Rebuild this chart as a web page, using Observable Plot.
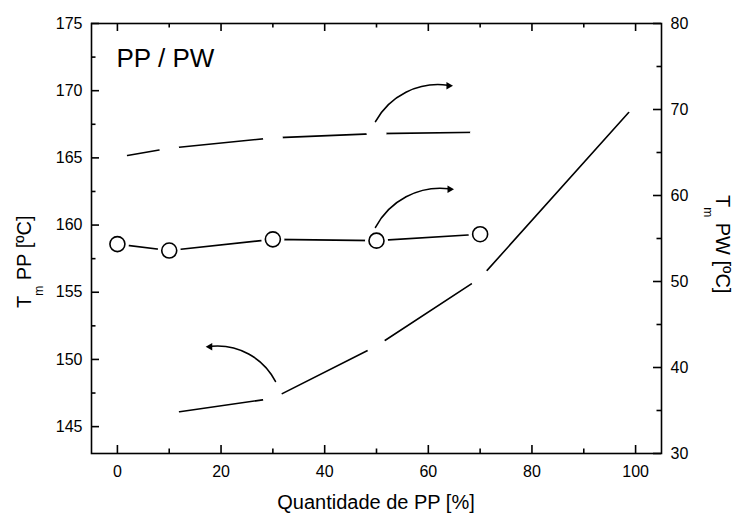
<!DOCTYPE html>
<html><head><meta charset="utf-8">
<script src="https://cdn.jsdelivr.net/npm/d3@7"></script>
<script src="https://cdn.jsdelivr.net/npm/@observablehq/plot@0.6"></script>
<style>
body{margin:0;background:#fff;}
#chart{width:737px;height:515px;}
svg{font-family:"Liberation Sans",Arial,sans-serif;color:#000;}
</style></head><body><div id="chart"></div>
<script>
// ---- data ----
const pct = [0, 10, 30, 50, 70];                       // % PP (PW series)
const pwCircles = [54.35, 53.6, 54.9, 54.75, 55.5];    // Tm PW [ºC], circles (right axis)
const pwDashed = [64.45, 65.5, 66.7, 67.2, 67.35];     // Tm PW [ºC], broken line (right axis)
const ppPct = [10, 30, 50, 70, 100];                   // % PP (PP series)
const ppTm = [146.0, 147.1, 151.0, 156.05, 168.95];    // Tm PP [ºC] (left axis)
const xTicks = [0, 20, 40, 60, 80, 100];
const xMinor = [10, 30, 50, 70, 90];
const leftTicks = [145, 150, 155, 160, 165, 170, 175];
const leftMinor = [147.5, 152.5, 157.5, 162.5, 167.5, 172.5];
const rightTicks = [30, 40, 50, 60, 70, 80];
const rightMinor = [35, 45, 55, 65, 75];
const arrowsRight = [
  {x1: 49.8, y1: 167.7, x2: 64.5, y2: 170.36},
  {x1: 49.8, y1: 159.82, x2: 64.7, y2: 162.66}
];
const arrowsLeft = [
  {x1: 30.5, y1: 148.36, x2: 17.3, y2: 150.94}
];
const label = "PP / PW";

// ---- scales mapping (right axis -> left axis units) ----
const L0 = 143, L1 = 175, R0 = 30, R1 = 80;
const toLeft = r => L0 + (r - R0) * (L1 - L0) / (R1 - R0);
const fromLeft = v => R0 + (v - L0) * (R1 - R0) / (L1 - L0);

const W = 737, H = 515, mL = 91, mR = 76, mT = 23, mB = 62;
const iW = W - mL - mR, iH = H - mT - mB;
const major = 8, minor = 4.5;

const circRows = pct.map((x, i) => ({x, y: toLeft(pwCircles[i])}));
const dashRows = pct.map((x, i) => ({x, y: toLeft(pwDashed[i])}));
const ppRows = ppPct.map((x, i) => ({x, y: ppTm[i]}));
const sw = 1.6;

const chart = Plot.plot({
  width: W, height: H,
  marginLeft: mL, marginRight: mR, marginTop: mT, marginBottom: mB,
  style: {fontFamily: "Liberation Sans, Arial, sans-serif", fontSize: "16px", color: "#000", background: "#fff"},
  x: {domain: [-5, 105]},
  y: {domain: [L0, L1]},
  marks: [
    // ticks (inward)
    Plot.tickX(xTicks, {x: d => d, insetTop: iH - major, strokeWidth: sw}),
    Plot.tickX(xTicks, {x: d => d, insetBottom: iH - major, strokeWidth: sw}),
    Plot.tickX(xMinor, {x: d => d, insetTop: iH - minor, strokeWidth: sw}),
    Plot.tickX(xMinor, {x: d => d, insetBottom: iH - minor, strokeWidth: sw}),
    Plot.tickY(leftTicks, {y: d => d, insetRight: iW - major, strokeWidth: sw}),
    Plot.tickY(leftMinor, {y: d => d, insetRight: iW - minor, strokeWidth: sw}),
    Plot.tickY(rightTicks.map(toLeft), {y: d => d, insetLeft: iW - major, strokeWidth: sw}),
    Plot.tickY(rightMinor.map(toLeft), {y: d => d, insetLeft: iW - minor, strokeWidth: sw}),
    // tick labels
    Plot.axisX(xTicks, {anchor: "bottom", tickSize: 0, tickPadding: 12, label: null, fontSize: 16}),
    Plot.axisY(leftTicks, {anchor: "left", tickSize: 0, tickPadding: 9, label: null, fontSize: 16}),
    Plot.axisY(rightTicks.map(toLeft), {anchor: "right", tickSize: 0, tickPadding: 9, label: null, fontSize: 16,
      tickFormat: v => String(Math.round(fromLeft(v)))}),
    // broken upper line (PW)
    Plot.line(dashRows, {x: "x", y: "y", stroke: "#000", strokeWidth: sw}),
    Plot.dot(dashRows, {x: "x", y: "y", r: 10, fill: "#fff", stroke: "none"}),
    // lower line (PP)
    Plot.line(ppRows, {x: "x", y: "y", stroke: "#000", strokeWidth: sw}),
    Plot.dot(ppRows, {x: "x", y: "y", r: 10, fill: "#fff", stroke: "none"}),
    // circles line (PW)
    Plot.line(circRows, {x: "x", y: "y", stroke: "#000", strokeWidth: sw}),
    Plot.dot(circRows, {x: "x", y: "y", r: 11.5, fill: "#fff", stroke: "none"}),
    Plot.dot(circRows, {x: "x", y: "y", r: 7.5, fill: "#fff", stroke: "#000", strokeWidth: sw}),
    // annotation arrows
    Plot.arrow(arrowsRight, {x1: "x1", y1: "y1", x2: "x2", y2: "y2", bend: 36, stroke: "#000", strokeWidth: sw, headLength: 0, inset: 0, insetEnd: 4}),
    Plot.arrow(arrowsLeft, {x1: "x1", y1: "y1", x2: "x2", y2: "y2", bend: -36, stroke: "#000", strokeWidth: sw, headLength: 0, inset: 0, insetEnd: 4}),
    Plot.dot(arrowsRight, {x: "x2", y: "y2", symbol: "triangle2", rotate: 90, r: 3.6, dx: -3, fill: "#000", stroke: "none"}),
    Plot.dot(arrowsLeft, {x: "x2", y: "y2", symbol: "triangle2", rotate: -90, r: 3.6, dx: 3, fill: "#000", stroke: "none"}),
    // label
    Plot.text([label], {text: d => d, frameAnchor: "top-left", dx: 25, dy: 43, textAnchor: "start", lineAnchor: "bottom", fontSize: 26, fill: "#000"}),
    Plot.frame({stroke: "#000", strokeWidth: sw})
  ]
});
document.getElementById("chart").appendChild(chart);
const svgEl = chart.tagName.toLowerCase() === "svg" ? chart : chart.querySelector("svg");
const s = d3.select(svgEl);
s.append("text").attr("x", mL + iW / 2).attr("y", H - 6).attr("text-anchor", "middle")
  .attr("font-size", 20).attr("fill", "#000").text("Quantidade de PP [%]");
const lt = s.append("text").attr("transform", `translate(31,308) rotate(-90)`).attr("text-anchor", "start").attr("font-size", 20).attr("fill", "#000");
lt.append("tspan").text("T");
lt.append("tspan").attr("font-size", 12).attr("dy", 12).text("m");
lt.append("tspan").attr("dy", -12).text(" PP [ºC]");
const rt = s.append("text").attr("transform", `translate(716,195) rotate(90)`).attr("text-anchor", "start").attr("font-size", 20).attr("fill", "#000");
rt.append("tspan").text("T");
rt.append("tspan").attr("font-size", 12).attr("dy", 12).text("m");
rt.append("tspan").attr("dy", -12).text(" PW [ºC]");
</script></body></html>
